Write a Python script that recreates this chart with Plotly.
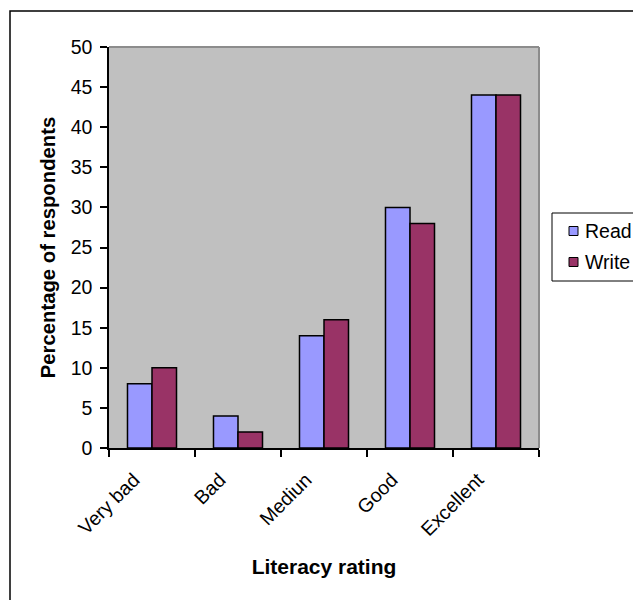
import plotly.graph_objects as go

# Survey results: share of respondents per self-rated literacy level
categories = ["Very bad", "Bad", "Mediun", "Good", "Excellent"]
read_pct = [8, 4, 14, 30, 44]
write_pct = [10, 2, 16, 28, 44]
series_names = ["Read", "Write"]

READ_COLOR = "#9999FF"
WRITE_COLOR = "#993366"
PLOT_BG = "#C0C0C0"
FONT = "Arial, 'Liberation Sans', sans-serif"

W, H = 633, 600
L, R, T, B = 109, 94, 47, 152  # plot area spans x 109..539, y 47..448


def fx(px):
    """Pixel column -> paper x."""
    return (px - L) / (W - L - R)


def fy(py):
    """Pixel row (from top) -> paper y."""
    return (H - B - py) / (H - T - B)


fig = go.Figure()
for name, vals, col in [(series_names[0], read_pct, READ_COLOR),
                        (series_names[1], write_pct, WRITE_COLOR)]:
    fig.add_trace(go.Bar(
        x=categories, y=vals, name=name,
        marker=dict(color=col, line=dict(color="black", width=1.5)),
        showlegend=False,
    ))

shapes = [
    # outer chart frame (runs past the right and bottom edges)
    dict(type="rect", xref="paper", yref="paper",
         x0=fx(10), x1=fx(700), y0=fy(660), y1=fy(11),
         line=dict(color="black", width=1.5), fillcolor="rgba(0,0,0,0)",
         layer="above"),
    # plot-area border, top and right
    dict(type="line", xref="paper", yref="paper", x0=0, x1=1, y0=1, y1=1,
         line=dict(color="#8C8C8C", width=2), layer="below"),
    dict(type="line", xref="paper", yref="paper", x0=1, x1=1, y0=0, y1=1,
         line=dict(color="#8C8C8C", width=2), layer="below"),
    # legend frame
    dict(type="rect", xref="paper", yref="paper",
         x0=fx(552), x1=fx(700), y0=fy(281), y1=fy(213),
         line=dict(color="black", width=1), fillcolor="white", layer="above"),
]

annotations = []
legend_rows = [(series_names[0], READ_COLOR, 231), (series_names[1], WRITE_COLOR, 262)]
for name, col, cy in legend_rows:
    shapes.append(dict(type="rect", xref="paper", yref="paper",
                       x0=fx(569), x1=fx(578), y0=fy(cy + 4.5), y1=fy(cy - 4.5),
                       line=dict(color="black", width=1), fillcolor=col,
                       layer="above"))
    annotations.append(dict(text=name, xref="paper", yref="paper",
                            x=fx(583), y=fy(cy), xanchor="left", yanchor="middle",
                            showarrow=False,
                            font=dict(family=FONT, size=19.5, color="black")))

fig.update_layout(
    width=W, height=H,
    margin=dict(l=L, r=R, t=T, b=B, pad=0),
    paper_bgcolor="white",
    plot_bgcolor=PLOT_BG,
    barmode="group",
    bargap=0.43,
    bargroupgap=0,
    font=dict(family=FONT, color="black"),
    shapes=shapes,
    annotations=annotations,
    xaxis=dict(
        type="category",
        tickson="boundaries",
        ticks="outside", ticklen=7, tickwidth=1.5, tickcolor="black",
        showline=True, linecolor="black", linewidth=1.5,
        showgrid=False, zeroline=False,
        tickangle=-45,
        ticklabelshift=-18, ticklabelstandoff=11,
        tickfont=dict(family=FONT, size=19.5, color="black"),
        title=dict(text="<b>Literacy rating</b>", standoff=20,
                   font=dict(family=FONT, size=21, color="black")),
    ),
    yaxis=dict(
        range=[0, 50], dtick=5, tick0=0,
        ticks="outside", ticklen=7, tickwidth=1.5, tickcolor="black",
        showline=True, linecolor="black", linewidth=1.5,
        showgrid=False, zeroline=False,
        ticklabelstandoff=4,
        tickfont=dict(family=FONT, size=19.5, color="black"),
        title=dict(text="<b>Percentage of respondents</b>", standoff=10,
                   font=dict(family=FONT, size=20.3, color="black")),
    ),
)

fig.write_html("out.html")
